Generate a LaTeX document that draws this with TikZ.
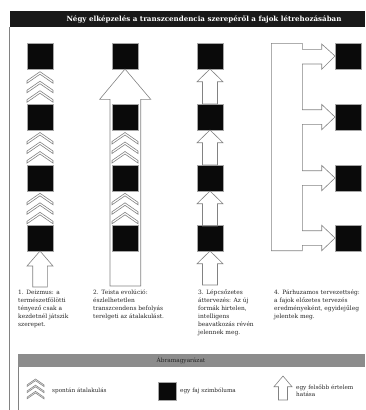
\documentclass[tikz,border=0pt]{standalone}
\usepackage{fontspec}
\setmainfont{DejaVu Serif}
\usetikzlibrary{calc}
\definecolor{lngray}{RGB}{130,130,130}
\definecolor{sqblack}{RGB}{10,10,10}
\definecolor{hdrgray}{RGB}{140,140,140}
\newcommand\uparr[2]{\draw[ln] (#1.south) -- ++(13,12.7) -- ++(-5.5,0) -- ++(0,#2) -- ++(-15,0) -- ++(0,-#2) -- ++(-5.5,0) -- cycle;}
\begin{document}
\begin{tikzpicture}[x=1pt,y=-1pt,
  sq/.style={fill=sqblack,draw=gray!70,line width=0.4pt,minimum size=26pt,inner sep=0pt,outer sep=0pt},
  ln/.style={draw=lngray,line width=0.6pt},
  captxt/.style={anchor=north west,align=left,font=\fontsize{5.9}{8}\selectfont,inner sep=0pt,text=black!85},
  lbl/.style={anchor=west,align=left,font=\fontsize{5.7}{7.5}\selectfont,inner sep=0pt,text=black!85},
  chev/.pic={\foreach \k in {0,1,2}{\draw[ln] (-13,9.5*\k+9) -- (0,9.5*\k) -- (13,9.5*\k+9) -- (13,9.5*\k+11.5) -- (0,9.5*\k+2.5) -- (-13,9.5*\k+11.5) -- cycle;}}
]
\useasboundingbox (0,0) rectangle (365,410);
% title
\fill[black!90] (9.5,11) rectangle (365,27);
\node[text=white,font=\bfseries\fontsize{7.1}{8}\selectfont] (title) at (204,19.5) {Négy elképzelés a transzcendencia szerepéről a fajok létrehozásában};
\draw[ln] (9.7,27) -- (9.7,410);
% column 1
\node[sq] (s11) at (40,56) {};
\node[sq] (s12) at (40,117) {};
\node[sq] (s13) at (40,178) {};
\node[sq] (s14) at (40,238) {};
\pic at (40,71.7) {chev};
\pic at (40,132.5) {chev};
\pic at (40,193.3) {chev};
\draw[ln,fill=white] (s14.south) -- ++(13,15) -- ++(-5.7,0) -- ++(0,21) -- ++(-14.6,0) -- ++(0,-21) -- ++(-5.7,0) -- cycle;
% column 2
\node[sq] (s21) at (125,56) {};
\draw[ln] (s21.south) -- (150.7,99.3) -- (140.7,99.3) -- (140.7,286) -- (110,286) -- (110,99.3) -- (99.7,99.3) -- cycle;
\node[sq] (s22) at (125,117) {};
\node[sq] (s23) at (125,178) {};
\node[sq] (s24) at (125,238) {};
\pic at (125,132.5) {chev};
\pic at (125,193.3) {chev};
% column 3
\node[sq] (s31) at (210,56) {};
\node[sq] (s32) at (210,117) {};
\node[sq] (s33) at (210,178) {};
\node[sq] (s34) at (210,238) {};
\uparr{s31}{22.3}
\uparr{s32}{22.3}
\uparr{s33}{22.3}
\uparr{s34}{21.3}
% column 4
\node[sq] (s41) at (348,56) {};
\node[sq] (s42) at (348,117) {};
\node[sq] (s43) at (348,178) {};
\node[sq] (s44) at (348,238) {};
\draw[ln] (271.3,43.3) -- (302.3,43.3) -- (302.3,49.3) -- (321.7,49.3) -- (321.7,44) -- (s41.west) -- (321.7,69.3) -- (321.7,64)
  -- (302.3,64) -- (302.3,109.7) -- (321.7,109.7) -- (321.7,104.4) -- (s42.west) -- (321.7,129.7) -- (321.7,124.3)
  -- (302.3,124.3) -- (302.3,170.7) -- (321.7,170.7) -- (321.7,165.4) -- (s43.west) -- (321.7,190.7) -- (321.7,185.3)
  -- (302.3,185.3) -- (302.3,230.7) -- (321.7,230.7) -- (321.7,225.3) -- (s44.west) -- (321.7,250.7) -- (321.7,245.3)
  -- (302.3,245.3) -- (302.3,250.7) -- (271.3,250.7) -- cycle;
% captions
\node[captxt] (c1) at (18,289.5) {1. Deizmus: a\\természetfölötti\\tényező csak a\\kezdetnél játszik\\szerepet.};
\node[captxt] (c2) at (93,289.5) {2. Teista evolúció:\\észlelhetetlen\\transzcendens befolyás\\terelgeti az átalakulást.};
\node[captxt] (c3) at (198,289.5) {3. Lépcsőzetes\\áttervezés: Az új\\formák hirtelen,\\intelligens\\beavatkozás révén\\jelennek meg.};
\node[captxt] (c4) at (274,289.5) {4. Párhuzamos tervezettség:\\a fajok előzetes tervezés\\eredményeként, egyidejűleg\\jelentek meg.};
% legend
\fill[hdrgray] (18,354) rectangle (365,367);
\node[font=\fontsize{5.8}{7}\selectfont,text=black!85] (lh) at (181,360.5) {Ábramagyarázat};
\draw[ln] (18,367) -- (18,410);
\pic[scale=0.65] at (35.5,379) {chev};
\node[lbl] (l1) at (52,391) {spontán átalakulás};
\node[sq,minimum size=18pt] (ls) at (167,391) {};
\node[lbl] (l2) at (180,391) {egy faj szimbóluma};
\coordinate (lt) at (283,376);
\draw[ln,fill=white] (lt) -- ++(9,10.7) -- ++(-4.5,0) -- ++(0,13.3) -- ++(-9,0) -- ++(0,-13.3) -- ++(-4.5,0) -- cycle;
\node[lbl] (l3) at (296,391) {egy felsőbb értelem\\hatása};
\end{tikzpicture}
\end{document}
